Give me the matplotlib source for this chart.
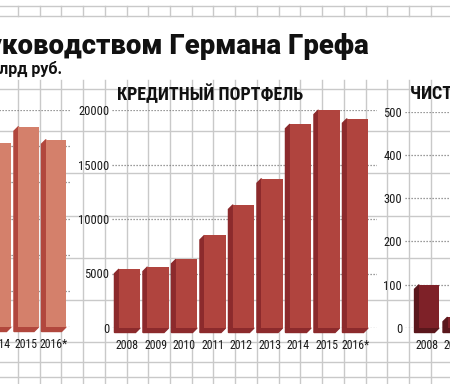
import matplotlib
matplotlib.use('Agg')
import matplotlib.pyplot as plt
from matplotlib.patches import Polygon
from matplotlib import font_manager

# данные
assets_years = ['2014', '2015', '2016*']
assets_vals = [25500, 27700, 25900]

loan_years = ['2008', '2009', '2010', '2011', '2012', '2013', '2014', '2015', '2016*']
loan_vals = [5400, 5600, 6300, 8500, 11300, 13700, 18700, 20000, 19200]

profit_years = ['2008', '2009']
profit_vals = [100, 25]

W, H = 450, 384

# ищем узкий шрифт среди установленных
names = {f.name for f in font_manager.fontManager.ttflist}
NARROW_FAMILY = 'DejaVu Sans'
NARROW_STRETCH = 'normal'
for cand in ['Liberation Sans Narrow', 'Roboto Condensed', 'Open Sans Condensed']:
    if cand in names:
        NARROW_FAMILY = cand
        break
else:
    if any(f.name == 'DejaVu Sans' and str(f.stretch) != 'normal' for f in font_manager.fontManager.ttflist):
        NARROW_STRETCH = 'condensed'
NARROW = [NARROW_FAMILY, 'DejaVu Sans']

fig = plt.figure(figsize=(W / 100, H / 100), dpi=100)
fig.patch.set_facecolor('white')

# фон - сетка как на миллиметровке
bg = fig.add_axes([0, 0, 1, 1])
bg.set_xlim(0, W)
bg.set_ylim(H, 0)
bg.axis('off')
grid_col = '#c9c9c9'
xs = [18 + 21.72 * k for k in range(21)]
for x in xs:
    bg.plot([x, x], [6, 16], color=grid_col, lw=1)
    bg.plot([x, x], [80, H], color=grid_col, lw=1)
for y in [6, 16]:
    bg.plot([0, W], [y, y], color=grid_col, lw=1)
for y in [89, 131, 173, 216, 258, 300, 342, 362, 377]:
    bg.plot([0, W], [y, y], color=grid_col, lw=1)

bg.text(369, 46, 'руководством Германа Грефа', ha='right', va='center',
        fontsize=19.8, family=['Roboto', 'DejaVu Sans'], weight='heavy', color='#111')
bg.text(62, 69, 'млрд руб.', ha='right', va='center', fontsize=11.5,
        family=['Roboto', 'DejaVu Sans'], weight='bold', color='#111')


def px_axes(left, top, right, bottom):
    return fig.add_axes([left / W, 1 - bottom / H, (right - left) / W, (bottom - top) / H])


def bars3d(ax, labels, vals, front, side, width, ylim, step, box, depth=4.5):
    left, top, right, bottom = box
    x = list(range(len(vals)))
    ax.set_ylim(0, ylim)
    ax.patch.set_alpha(0)
    xl = ax.get_xlim()
    dx = depth * (xl[1] - xl[0]) / (right - left)
    dy = depth * ylim / (bottom - top)
    for xi, v in zip(x, vals):
        x0, x1 = xi - width / 2, xi + width / 2
        ax.add_patch(Polygon([(x0, v), (x0 - dx, v - dy), (x0 - dx, -dy), (x0, 0)],
                             closed=True, color=side, clip_on=False, zorder=3))
        ax.add_patch(Polygon([(x0, 0), (x0 - dx, -dy), (x1 - dx, -dy), (x1, 0)],
                             closed=True, color=side, clip_on=False, zorder=3))
    ax.bar(x, vals, width=width, color=front, zorder=4, clip_on=False)
    ax.set_yticks(range(0, ylim + 1, step))
    ax.set_xticks([xi - dx / 2 for xi in x])
    ax.set_xticklabels(labels)
    ax.grid(axis='y', color='#7a7a7a', lw=0.9, ls=(0, (1, 1.4)))
    ax.set_axisbelow(True)
    for s in ax.spines.values():
        s.set_visible(False)
    ax.tick_params(length=0, labelsize=8.5, colors='#1a1a1a', pad=2)
    ax.tick_params(axis='y', labelsize=9)
    ax.tick_params(axis='x', pad=8)
    for t in ax.get_xticklabels() + ax.get_yticklabels():
        t.set_family(NARROW)
        t.set_stretch(NARROW_STRETCH)


# левый график (обрезан)
box = (-30, 110, 70, 327)
axl = px_axes(*box)
axl.set_xlim(-31 / 27.5, 69 / 27.5)
bars3d(axl, assets_years, assets_vals, '#d4806b', '#b1473d', 0.73, 30000, 5000, box)
axl.set_yticklabels([])

# кредитный портфель
box = (112, 110, 377, 328)
axm = px_axes(*box)
axm.set_xlim((112 - 129.5) / 28.5, (377 - 129.5) / 28.5)
bars3d(axm, loan_years, loan_vals, '#b0443e', '#8c2a2c', 0.74, 20000, 5000, box)
bg.text(117, 94, 'КРЕДИТНЫЙ ПОРТФЕЛЬ', ha='left', va='center', fontsize=13,
        family=NARROW, stretch=NARROW_STRETCH, weight='bold', color='#111')

# чистая прибыль (обрезан)
box = (405, 111.7, 480, 328)
axr = px_axes(*box)
axr.set_xlim((405 - 429) / 28.5, (480 - 429) / 28.5)
bars3d(axr, profit_years, profit_vals, '#7e2128', '#5a171c', 0.70, 500, 100, box)
bg.text(410, 94, 'ЧИСТАЯ ПРИБЫЛЬ', ha='left', va='center', fontsize=13,
        family=NARROW, stretch=NARROW_STRETCH, weight='bold', color='#111')

fig.savefig('out.png', dpi=100)
